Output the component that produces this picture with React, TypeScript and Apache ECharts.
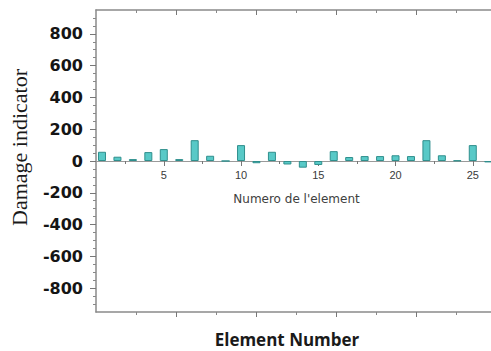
import React, { useEffect, useRef } from "react";
import * as echarts from "echarts";

const elements = [1, 2, 3, 4, 5, 6, 7, 8, 9, 10, 11, 12, 13, 14, 15, 16, 17, 18, 19, 20, 21, 22, 23, 24, 25, 26];
const damage = [58, 27, 12, 56, 75, 12, 131, 33, 0, 100, -14, 58, -22, -42, -25, 62, 25, 31, 31, 36, 31, 131, 36, 3, 100, -9];
const yLabels = [-800, -600, -400, -200, 0, 200, 400, 600, 800];
const yMinorTicks = [-900, -850, -750, -700, -650, -550, -500, -450, -350, -300, -250, -150, -100, -50, 50, 100, 150, 250, 300, 350, 450, 500, 550, 650, 700, 750, 850, 900];
const innerLabels = [5, 10, 15, 20, 25];
const innerMinor = [2.5, 7.5, 12.5, 17.5, 22.5];
const outerMajor = [80, 160, 240, 320];
const outerMinor = [40, 120, 200, 280, 360];

export default function App() {
  const ref = useRef<HTMLDivElement>(null);
  useEffect(() => {
    if (!ref.current) return;
    const chart = echarts.init(ref.current, undefined, { renderer: "svg" });
    const innerMin = 0.612;
    const innerMax = 26.18;
    const axisGray = "#8a8a8a";
    const outerRect = { left: 96, right: 0, top: 10, bottom: 39, containLabel: false, outerBoundsMode: "none" };
    // inner chart's zero line sits at the middle of the outer plot
    const innerRect = { left: 96, right: 0, top: 10, bottom: 190, containLabel: false, outerBoundsMode: "none" };
    const hiddenY = (gridIndex: number) => ({
      type: "value",
      gridIndex,
      min: 0,
      max: 950,
      show: false,
      axisLine: { show: false, onZero: false },
      splitLine: { show: false },
    });
    chart.setOption({
      animation: false,
      backgroundColor: "#ffffff",
      grid: [{ ...outerRect }, { ...innerRect }, { ...innerRect }],
      xAxis: [
        // outer bottom axis (major ticks)
        {
          type: "value",
          gridIndex: 0,
          min: 0,
          max: 395,
          position: "bottom",
          axisLine: { show: true, onZero: false, lineStyle: { color: axisGray, width: 1.5 } },
          axisTick: { show: true, customValues: outerMajor, length: 5, lineStyle: { color: "#777" } },
          axisLabel: { show: false },
          splitLine: { show: false },
        },
        {
          type: "value",
          gridIndex: 0,
          min: 0,
          max: 395,
          position: "bottom",
          axisLine: { show: false, onZero: false },
          axisTick: { show: true, customValues: outerMinor, length: 3, lineStyle: { color: "#888" } },
          axisLabel: { show: false },
          splitLine: { show: false },
        },
        {
          type: "value",
          gridIndex: 0,
          min: 0,
          max: 395,
          position: "top",
          axisLine: { show: true, onZero: false, lineStyle: { color: axisGray, width: 1.5 } },
          axisTick: { show: true, inside: true, customValues: outerMajor, length: 5, lineStyle: { color: "#777" } },
          axisLabel: { show: false },
          splitLine: { show: false },
        },
        {
          type: "value",
          gridIndex: 0,
          min: 0,
          max: 395,
          position: "top",
          axisLine: { show: false, onZero: false },
          axisTick: { show: true, inside: true, customValues: outerMinor, length: 3, lineStyle: { color: "#888" } },
          axisLabel: { show: false },
          splitLine: { show: false },
        },
        // hidden element axis in outer grid used by the bars
        {
          type: "value",
          gridIndex: 0,
          min: innerMin,
          max: innerMax,
          position: "bottom",
          show: false,
          axisLine: { show: false, onZero: false },
          splitLine: { show: false },
        },
        // inner axis at zero (major ticks + labels)
        {
          type: "value",
          gridIndex: 1,
          min: innerMin,
          max: innerMax,
          position: "bottom",
          axisLine: { show: true, onZero: false, lineStyle: { color: "#9a9a9a", width: 1 } },
          axisTick: { show: true, customValues: innerLabels, length: 5, lineStyle: { color: "#777" } },
          axisLabel: { show: true, customValues: innerLabels, color: "#3a3a3a", fontSize: 11, fontFamily: "Liberation Sans, Arial", margin: 8 },
          splitLine: { show: false },
          name: "Numero de l'element",
          nameLocation: "middle",
          nameGap: 32,
          nameTextStyle: { color: "#404040", fontSize: 12, fontFamily: "DejaVu Sans, Verdana", verticalAlign: "top", padding: [0, 0, 0, 6] },
        },
        // inner axis minor ticks
        {
          type: "value",
          gridIndex: 2,
          min: innerMin,
          max: innerMax,
          position: "bottom",
          axisLine: { show: false, onZero: false },
          axisTick: { show: true, customValues: innerMinor, length: 3, lineStyle: { color: "#777" } },
          axisLabel: { show: false },
          splitLine: { show: false },
        },
      ],
      yAxis: [
        {
          type: "value",
          gridIndex: 0,
          min: -950,
          max: 950,
          position: "left",
          axisLine: { show: true, onZero: false, lineStyle: { color: axisGray, width: 1.5 } },
          axisTick: { show: true, customValues: yLabels, length: 6, lineStyle: { color: "#777" } },
          axisLabel: {
            show: true,
            customValues: yLabels,
            color: "#151515",
            fontSize: 16,
            fontWeight: "bold",
            fontFamily: "DejaVu Sans, Verdana",
            margin: 13,
          },
          splitLine: { show: false },
        },
        {
          type: "value",
          gridIndex: 0,
          min: -950,
          max: 950,
          position: "left",
          axisLine: { show: false, onZero: false },
          axisTick: { show: true, customValues: yMinorTicks, length: 3, lineStyle: { color: "#888" } },
          axisLabel: { show: false },
          splitLine: { show: false },
        },
        hiddenY(1),
        hiddenY(2),
      ],
      series: [
        {
          type: "bar",
          xAxisIndex: 4,
          yAxisIndex: 0,
          barWidth: 8,
          data: elements.map((e, i) => [e, damage[i]]),
          itemStyle: { color: "#58c9c7", borderColor: "#2f8f8d", borderWidth: 1 },
        },
      ],
      graphic: [
        {
          type: "text",
          x: 19,
          y: 147.5,
          rotation: Math.PI / 2,
          style: {
            text: "Damage indicator",
            font: "22px 'Liberation Serif', 'Times New Roman', serif",
            fill: "#1a1a1a",
            align: "center",
            verticalAlign: "middle",
          },
        },
        {
          type: "text",
          x: 287,
          y: 339,
          style: {
            text: "Element Number",
            font: "bold 17px 'Open Sans', sans-serif",
            fill: "#1a1a1a",
            align: "center",
            verticalAlign: "middle",
          },
        },
      ],
    });
    return () => chart.dispose();
  }, []);
  return <div ref={ref} style={{ width: 491, height: 351, position: "absolute", left: 0, top: 0 }} />;
}
